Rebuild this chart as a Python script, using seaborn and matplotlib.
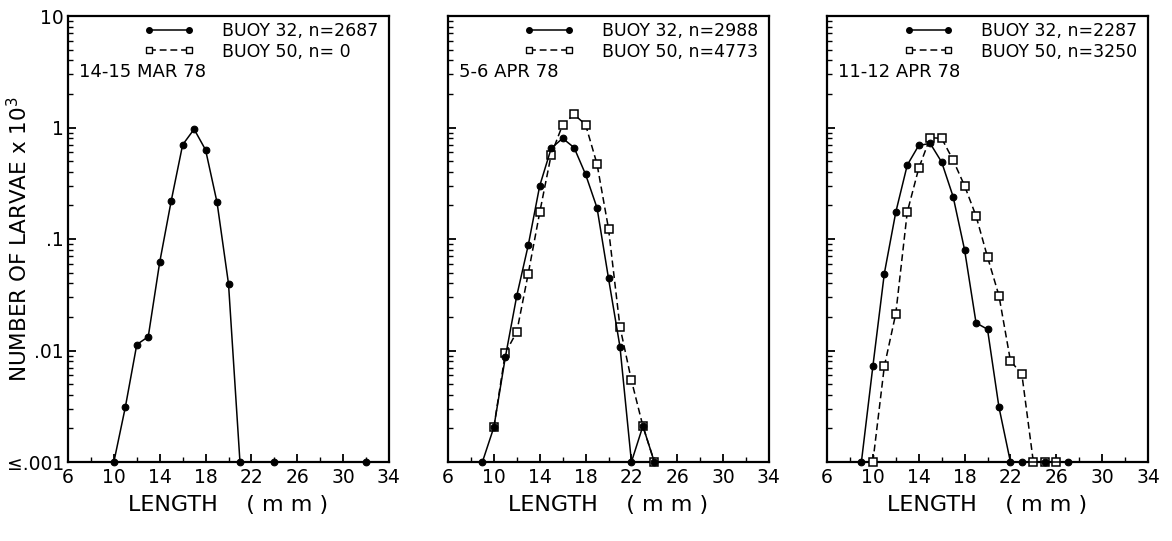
import numpy as np
import pandas as pd
import matplotlib
matplotlib.use("Agg")
import matplotlib.pyplot as plt
from matplotlib.lines import Line2D
from matplotlib.ticker import FixedLocator, NullFormatter, LogLocator
import seaborn as sns

# ---------------- data (values <= 0.001 sit on the floor) ----------------
p1_len_32 = [10, 11, 12, 13, 14, 15, 16, 17, 18, 19, 20, 21, 24, 32]
p1_val_32 = [0.001, 0.0031, 0.0113, 0.0133, 0.062, 0.219, 0.70, 0.966, 0.63, 0.213, 0.0397, 0.001, 0.001, 0.001]

p2_len_32 = [9, 10, 11, 12, 13, 14, 15, 16, 17, 18, 19, 20, 21, 22, 23, 24]
p2_val_32 = [0.001, 0.00205, 0.0087, 0.031, 0.088, 0.30, 0.65, 0.80, 0.66, 0.38, 0.19, 0.0444, 0.0108, 0.001, 0.0021, 0.001]
p2_len_50 = [10, 11, 12, 13, 14, 15, 16, 17, 18, 19, 20, 21, 22, 23, 24]
p2_val_50 = [0.00205, 0.0095, 0.0147, 0.049, 0.173, 0.57, 1.06, 1.31, 1.06, 0.47, 0.124, 0.0163, 0.0054, 0.0021, 0.001]

p3_len_32 = [9, 10, 11, 12, 13, 14, 15, 16, 17, 18, 19, 20, 21, 22, 23, 25, 27]
p3_val_32 = [0.001, 0.0072, 0.049, 0.174, 0.46, 0.69, 0.72, 0.49, 0.24, 0.080, 0.0177, 0.0155, 0.0031, 0.001, 0.001, 0.001, 0.001]
p3_len_50 = [10, 11, 12, 13, 14, 15, 16, 17, 18, 19, 20, 21, 22, 23, 24, 25, 26]
p3_val_50 = [0.001, 0.0072, 0.0214, 0.174, 0.43, 0.81, 0.80, 0.51, 0.30, 0.161, 0.069, 0.031, 0.0081, 0.0061, 0.001, 0.001, 0.001]

panel_dates = ["14-15 MAR 78", "5-6 APR 78", "11-12 APR 78"]
legend_32 = ["BUOY 32, n=2687", "BUOY 32, n=2988", "BUOY 32, n=2287"]
legend_50 = ["BUOY 50, n= 0", "BUOY 50, n=4773", "BUOY 50, n=3250"]

x_ticks = [6, 10, 14, 18, 22, 26, 30, 34]
y_ticks = [0.001, 0.01, 0.1, 1, 10]
y_tick_labels = ["≤.001", ".01", ".1", "1", "10"]

series32 = [(p1_len_32, p1_val_32), (p2_len_32, p2_val_32), (p3_len_32, p3_val_32)]
series50 = [None, (p2_len_50, p2_val_50), (p3_len_50, p3_val_50)]

# ---------------- style ----------------
sns.set_style("ticks")
plt.rcParams["font.family"] = ["DejaVu Sans"]
for key in ["text.color", "axes.labelcolor", "xtick.color", "ytick.color", "axes.edgecolor"]:
    plt.rcParams[key] = "black"
plt.rcParams["axes.linewidth"] = 1.6

fig = plt.figure(figsize=(11.72, 5.41), dpi=100)
lefts = [68 / 1172, 448 / 1172, 827 / 1172]
width = 321 / 1172
bottom = 1 - 462 / 541
height = 446 / 541

dash = (0, (4.5, 2.5))
lw = 1.1

for i in range(3):
    ax = fig.add_axes([lefts[i], bottom, width, height])
    ax.set_yscale("log")

    xs, ys = series32[i]
    df = pd.DataFrame({"length": xs, "count": ys})
    sns.lineplot(data=df, x="length", y="count", ax=ax, color="black",
                 marker="o", markersize=4.8, mec="black", mfc="black", mew=0.8,
                 lw=lw, errorbar=None, clip_on=False, zorder=4)

    if series50[i] is not None:
        xs, ys = series50[i]
        df = pd.DataFrame({"length": xs, "count": ys})
        sns.lineplot(data=df, x="length", y="count", ax=ax, color="black",
                     marker="s", markersize=5.3, mec="black", mfc="white", mew=1.1,
                     lw=lw, linestyle=dash, errorbar=None, clip_on=False, zorder=3)

    ax.set_xlim(6, 34)
    ax.set_ylim(0.001, 10)
    ax.xaxis.set_major_locator(FixedLocator(x_ticks))
    ax.xaxis.set_minor_locator(FixedLocator(list(range(6, 35, 2))))
    ax.yaxis.set_major_locator(FixedLocator(y_ticks))
    ax.yaxis.set_minor_locator(LogLocator(base=10, subs=np.arange(2, 10)))
    ax.yaxis.set_minor_formatter(NullFormatter())
    ax.tick_params(axis="both", which="major", direction="in", length=6, width=1.3,
                   labelsize=13.5, top=False, right=False)
    ax.tick_params(axis="both", which="minor", direction="in", length=3.5, width=1.0,
                   top=False, right=False)
    ax.tick_params(axis="x", pad=4)
    ax.tick_params(axis="y", pad=3)
    if i == 0:
        ax.set_yticklabels(y_tick_labels)
    else:
        ax.set_yticklabels([])
    ax.set_ylabel("")
    ax.set_xticklabels([str(t) for t in x_ticks])
    ax.set_xlabel("LENGTH    ( m m )", fontsize=16, labelpad=6)

    for sp in ax.spines.values():
        sp.set_visible(True)
        sp.set_linewidth(1.6)

    handles = [
        Line2D([], [], color="black", lw=lw, marker="o", markersize=4, mfc="black", mec="black"),
        Line2D([], [], color="black", lw=lw, linestyle=dash, marker="s", markersize=4.5,
               mfc="white", mec="black"),
    ]
    ax.legend(handles, [legend_32[i], legend_50[i]], loc="upper right",
              bbox_to_anchor=(1.0, 1.01), frameon=False, numpoints=2,
              handlelength=2.9, handletextpad=1.6, labelspacing=0.15,
              fontsize=12.5, borderaxespad=0.2)
    ax.text(0.035, 0.875, panel_dates[i], transform=ax.transAxes, fontsize=13,
            ha="left", va="center")

fig.text(19 / 1172, 1 - 239 / 541, "NUMBER OF LARVAE x 10$^3$", rotation=90,
         ha="center", va="center", fontsize=15.5)

fig.savefig("out.png", dpi=100)
